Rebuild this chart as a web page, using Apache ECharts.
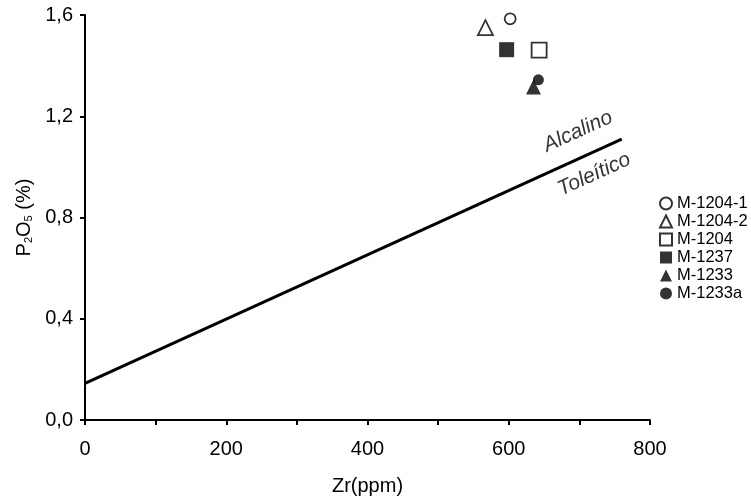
<!DOCTYPE html>
<html>
<head>
<meta charset="utf-8">
<script src="https://cdn.jsdelivr.net/npm/echarts@6/dist/echarts.min.js"></script>
<style>
  html, body { margin: 0; padding: 0; background: #fff; }
  #chart { width: 751px; height: 499px; }
</style>
</head>
<body>
<div id="chart"></div>
<script>
var myChart = echarts.init(document.getElementById('chart'));

// amostras (Zr ppm, P2O5 %)
var sampleNames = ['M-1204-1', 'M-1204-2', 'M-1204', 'M-1237', 'M-1233', 'M-1233a'];
var sampleZr = [602, 567, 643, 597, 635, 642];
var sampleP2O5 = [1.585, 1.55, 1.461, 1.463, 1.316, 1.344];
var sampleSymbols = ['circle', 'triangle', 'rect', 'rect', 'triangle', 'circle'];
var sampleSizes = [11, 15, 15, 15, 15, 11];
var sampleFilled = [false, false, false, true, true, true];

// linha divisoria alcalino / toleitico
var lineZr = [0, 760];
var lineP2O5 = [0.145, 1.11];

// rotulos dos campos
var fieldNames = ['Alcalino', 'Toleítico'];
var fieldZr = [698, 721];
var fieldP2O5 = [1.14, 0.97];

var xTicks = [0, 200, 400, 600, 800];
var yTicks = [0, 0.4, 0.8, 1.2, 1.6];

var font = 'Liberation Sans, Arial, sans-serif';

var series = [];

series.push({
    name: 'divisa',
    type: 'line',
    data: lineZr.map(function (z, i) { return [z, lineP2O5[i]]; }),
    symbol: 'none',
    lineStyle: { color: '#000', width: 3 },
    silent: true,
    z: 1
});

series.push({
    name: 'campos',
    type: 'scatter',
    data: fieldNames.map(function (n, i) { return { name: n, value: [fieldZr[i], fieldP2O5[i]] }; }),
    symbolSize: 0,
    silent: true,
    label: {
        show: true,
        position: 'inside',
        formatter: '{b}',
        rotate: 24.4,
        color: '#000',
        fontFamily: font,
        fontStyle: 'italic',
        fontSize: 21
    }
});

for (var i = 0; i < sampleNames.length; i++) {
    series.push({
        name: sampleNames[i],
        type: 'scatter',
        data: [[sampleZr[i], sampleP2O5[i]]],
        symbol: sampleSymbols[i],
        symbolSize: sampleSizes[i],
        itemStyle: sampleFilled[i]
            ? { color: '#000', borderColor: '#000', borderWidth: 0 }
            : { color: '#fff', borderColor: '#000', borderWidth: 1.8 },
        z: 3
    });
}

var option = {
    backgroundColor: '#fff',
    animation: false,
    grid: { left: 85, right: 101, top: 15, bottom: 79, containLabel: false, outerBoundsMode: 'none' },
    legend: {
        data: sampleNames.map(function (n, i) {
            return { name: n, icon: sampleSymbols[i] };
        }),
        orient: 'vertical',
        left: 659,
        top: 195,
        padding: 0,
        itemWidth: 12,
        itemHeight: 12,
        itemGap: 1,
        selectedMode: false,
        textStyle: { fontFamily: font, fontSize: 16.5, color: '#000', lineHeight: 16 }
    },
    xAxis: {
        type: 'value',
        min: 0,
        max: 800,
        interval: 100,
        name: 'Zr(ppm)',
        nameLocation: 'middle',
        nameGap: 56,
        nameTextStyle: { fontFamily: font, fontSize: 20, color: '#000' },
        splitLine: { show: false },
        axisLine: { onZero: false, lineStyle: { color: '#000', width: 2 } },
        axisTick: { show: true, length: 5, lineStyle: { color: '#000', width: 2 } },
        axisLabel: {
            color: '#000',
            fontFamily: font,
            fontSize: 20,
            margin: 19,
            formatter: function (v) { return xTicks.indexOf(v) >= 0 ? String(v) : ''; }
        }
    },
    yAxis: {
        type: 'value',
        min: 0,
        max: 1.6,
        interval: 0.4,
        name: '{a|P}{s|2}{a|O}{s|5}{a| (%)}',
        nameLocation: 'middle',
        nameGap: 51,
        nameRotate: 90,
        nameTextStyle: {
            rich: {
                a: { fontFamily: font, fontSize: 20, color: '#000', lineHeight: 24, verticalAlign: 'bottom' },
                s: { fontFamily: font, fontSize: 11, color: '#000', lineHeight: 24, verticalAlign: 'bottom' }
            }
        },
        splitLine: { show: false },
        axisLine: { onZero: false, lineStyle: { color: '#000', width: 2 } },
        axisTick: { show: true, length: 5, lineStyle: { color: '#000', width: 2 } },
        axisLabel: {
            color: '#000',
            fontFamily: font,
            fontSize: 20,
            margin: 12,
            formatter: function (v) {
                var k = yTicks.indexOf(Math.round(v * 10) / 10);
                return k >= 0 ? yTicks[k].toFixed(1).replace('.', ',') : '';
            }
        }
    },
    series: series
};

myChart.setOption(option);
</script>
</body>
</html>
